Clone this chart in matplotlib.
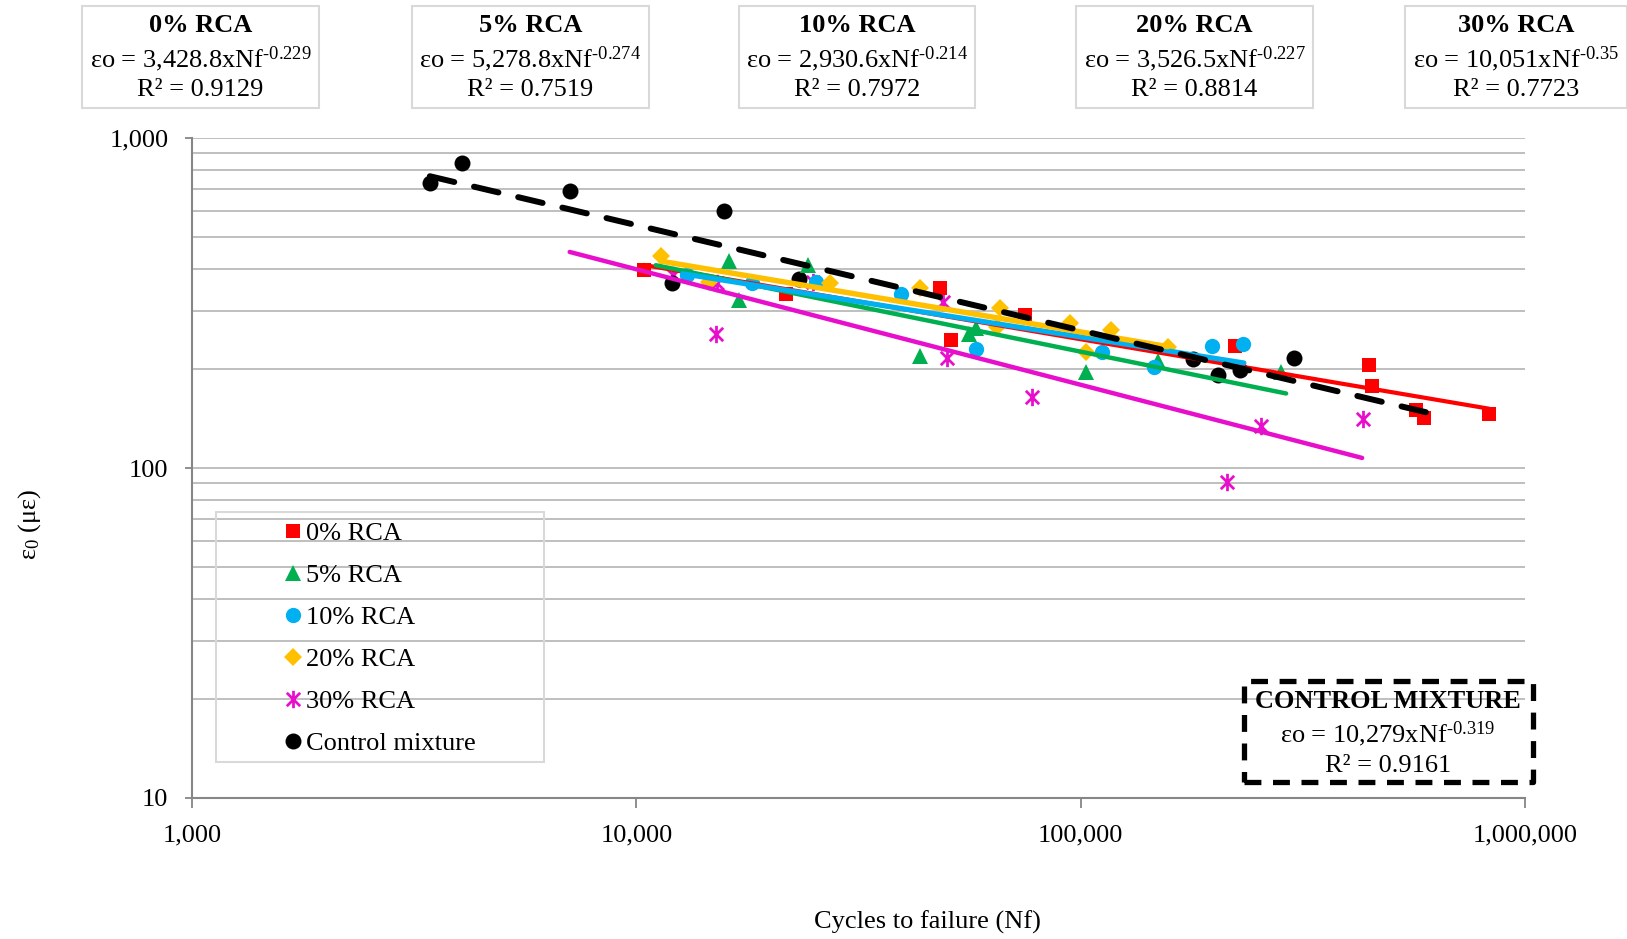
import numpy as np
import matplotlib.pyplot as plt
from matplotlib.path import Path
from matplotlib.patches import Rectangle
from matplotlib.ticker import FuncFormatter, LogLocator, NullFormatter

plt.rcParams['font.family'] = ['Liberation Serif', 'DejaVu Serif']
plt.rcParams['mathtext.fontset'] = 'custom'
plt.rcParams['mathtext.rm'] = 'Liberation Serif'
plt.rcParams['mathtext.it'] = 'Liberation Serif:italic'
plt.rcParams['mathtext.bf'] = 'Liberation Serif:bold'

# ---- data (Nf = cycles, eps = strain in microstrain)
nf_0 = [10380, 21700, 48200, 51200, 75000, 222000, 446000, 452000, 569000, 594000, 830000]
eps_0 = [399, 337, 350, 245, 290, 235, 205, 177, 150, 142, 146]

nf_5 = [16200, 17000, 24400, 43500, 56000, 58000, 103000, 149000, 283000]
eps_5 = [423, 323, 413, 219, 255, 265, 196, 211, 196]

nf_10 = [12990, 18200, 25400, 39400, 58200, 111700, 146000, 198000, 232000]
eps_10 = [385, 363, 366, 337, 230, 225, 203, 235, 238]

nf_20 = [11350, 14600, 27300, 43500, 64800, 65900, 94400, 103000, 117000, 157000]
eps_20 = [438, 366, 363, 350, 268, 305, 275, 225, 262, 233]

nf_30 = [12100, 15200, 15100, 25000, 48900, 50100, 77800, 213000, 254000, 431000]
eps_30 = [385, 363, 255, 366, 318, 215, 164, 91, 134, 141]

nf_ctrl = [3430, 4045, 7080, 12000, 15780, 23200, 179000, 204000, 228000, 302000]
eps_ctrl = [728, 840, 692, 363, 602, 373, 214, 192, 198, 215]

labels = ['0% RCA', '5% RCA', '10% RCA', '20% RCA', '30% RCA', 'Control mixture']
# power-law trendlines shown on the chart: eps = a * Nf^b
coef_a = [3428.8, 5278.8, 2930.6, 3526.5, 10051, 10279]
coef_b = [-0.229, -0.274, -0.214, -0.227, -0.35, -0.319]
r2 = [0.9129, 0.7519, 0.7972, 0.8814, 0.7723, 0.9161]
# Nf span of each drawn trendline
trend_nf_min = [10380, 11060, 12700, 11350, 7080, 3430]
trend_nf_max = [830000, 290000, 233000, 157000, 430000, 611000]

nf_all = [nf_0, nf_5, nf_10, nf_20, nf_30, nf_ctrl]
eps_all = [eps_0, eps_5, eps_10, eps_20, eps_30, eps_ctrl]

# ---- styles
colors = ['#FF0000', '#00B050', '#00B0F0', '#FFC000', '#E80FCC', '#000000']
star = Path([(-1, -1), (1, 1), (-1, 1), (1, -1), (0, -1.3), (0, 1.3)],
            [Path.MOVETO, Path.LINETO] * 3)
markers = ['s', '^', 'o', 'D', star, 'o']
msizes = [10, 11.5, 11, 9.5, 12.5, 11.5]
mzorder = [3.4, 3.4, 3.4, 3.4, 3.0, 3.2]
trend_lw = [3.0, 3.2, 3.7, 3.9, 3.2]

FS = 19
W, H = 1627, 939

fig = plt.figure(figsize=(W / 100, H / 100), dpi=100)
ax = fig.add_axes([192 / W, 1 - 798 / H, (1525 - 192) / W, (798 - 138) / H])
ax.set_xscale('log')
ax.set_yscale('log')
ax.set_xlim(1000, 1e6)
ax.set_ylim(10, 1000)

handles = []
for i in range(6):
    if markers[i] is star:
        h, = ax.plot(nf_all[i], eps_all[i], linestyle='none', marker=star, ms=msizes[i],
                     mec=colors[i], mfc='none', mew=2.0, zorder=mzorder[i], label=labels[i])
    else:
        h, = ax.plot(nf_all[i], eps_all[i], linestyle='none', marker=markers[i], ms=msizes[i],
                     mec=colors[i], mfc=colors[i], mew=0, zorder=mzorder[i], label=labels[i])
    handles.append(h)

# trendlines
for i in range(6):
    xs = np.geomspace(trend_nf_min[i], trend_nf_max[i], 60)
    ys = coef_a[i] * xs ** coef_b[i]
    if i == 5:
        ax.plot(xs, ys, color=colors[i], lw=4.3, dashes=(4.2, 3.4),
                dash_capstyle='round', zorder=5)
    else:
        ax.plot(xs, ys, color=colors[i], lw=trend_lw[i], solid_capstyle='round', zorder=4 + i * 0.1)

# axes cosmetics
for s in ['top', 'right']:
    ax.spines[s].set_visible(False)
for s in ['left', 'bottom']:
    ax.spines[s].set_color('#868686')
    ax.spines[s].set_linewidth(1.5)
ax.yaxis.set_minor_locator(LogLocator(base=10, subs=np.arange(2, 10)))
ax.xaxis.set_minor_locator(LogLocator(base=10, subs=np.arange(2, 10)))
ax.yaxis.set_minor_formatter(NullFormatter())
ax.xaxis.set_minor_formatter(NullFormatter())
fmt = FuncFormatter(lambda v, p: f'{v:,.0f}')
ax.xaxis.set_major_formatter(fmt)
ax.yaxis.set_major_formatter(fmt)
ax.tick_params(which='minor', length=0)
ax.tick_params(axis='y', which='major', length=5, color='#868686', width=1.3, labelsize=FS, pad=12)
ax.tick_params(axis='x', which='major', length=7, color='#868686', width=1.3, labelsize=FS, pad=12)
ax.yaxis.grid(True, which='both', color='#BFBFBF', lw=1.4)
ax.set_axisbelow(True)

fig.text(0.570, 0.018, 'Cycles to failure (Nf)', ha='center', va='center', fontsize=FS)
fig.text(0.018, 0.442, r'ε$_0$ (με)', ha='center', va='center', rotation=90, fontsize=FS)

# legend (markers only) with a light frame
leg = fig.legend(handles=handles, loc='upper left', bbox_to_anchor=(284 / W, 1 - 522 / H),
                 frameon=False, fontsize=FS, handlelength=0.7, handletextpad=0.15,
                 borderpad=0, labelspacing=0.7, borderaxespad=0)
fig.add_artist(Rectangle((216 / W, 1 - 762 / H), 328 / W, 250 / H, transform=fig.transFigure,
                         fill=False, ec='#D9D9D9', lw=1.5))


def coef_text(a):
    return f'{a:,.0f}' if float(a).is_integer() else f'{a:,.1f}'


def eq_text(a, b):
    expo = f'{b}'.replace('-', '\u2010')
    return f'εo = {coef_text(a)}xNf$^{{{expo}}}$'


# equation boxes above the plot
box_left = [82, 412, 739, 1076, 1405]
box_width = [237, 237, 236, 237, 222]
for i in range(5):
    x0 = box_left[i] / W
    fig.add_artist(Rectangle((x0, 1 - 108 / H), box_width[i] / W, 102 / H,
                             transform=fig.transFigure, fill=False, ec='#D9D9D9', lw=1.5))
    xc = (box_left[i] + box_width[i] / 2) / W
    fig.text(xc, 1 - 26 / H, labels[i], ha='center', va='center', fontsize=FS, fontweight='bold')
    fig.text(xc, 1 - 59 / H, eq_text(coef_a[i], coef_b[i]), ha='center', va='center', fontsize=FS)
    fig.text(xc, 1 - 90 / H, f'R² = {r2[i]:.4f}', ha='center', va='center', fontsize=FS)

# control mixture box
fig.add_artist(Rectangle((1244 / W, 1 - 782 / H), 289 / W, 101 / H, transform=fig.transFigure,
                         fill=False, ec='black', lw=3.8, ls=(0, (3.2, 2.2)), joinstyle='round'))
xc = 1388 / W
fig.text(xc, 1 - 702 / H, 'CONTROL MIXTURE', ha='center', va='center', fontsize=FS, fontweight='bold')
fig.text(xc, 1 - 734 / H, eq_text(coef_a[5], coef_b[5]), ha='center', va='center', fontsize=FS)
fig.text(xc, 1 - 766 / H, f'R² = {r2[5]:.4f}', ha='center', va='center', fontsize=FS)

fig.savefig('out.png', dpi=100)
